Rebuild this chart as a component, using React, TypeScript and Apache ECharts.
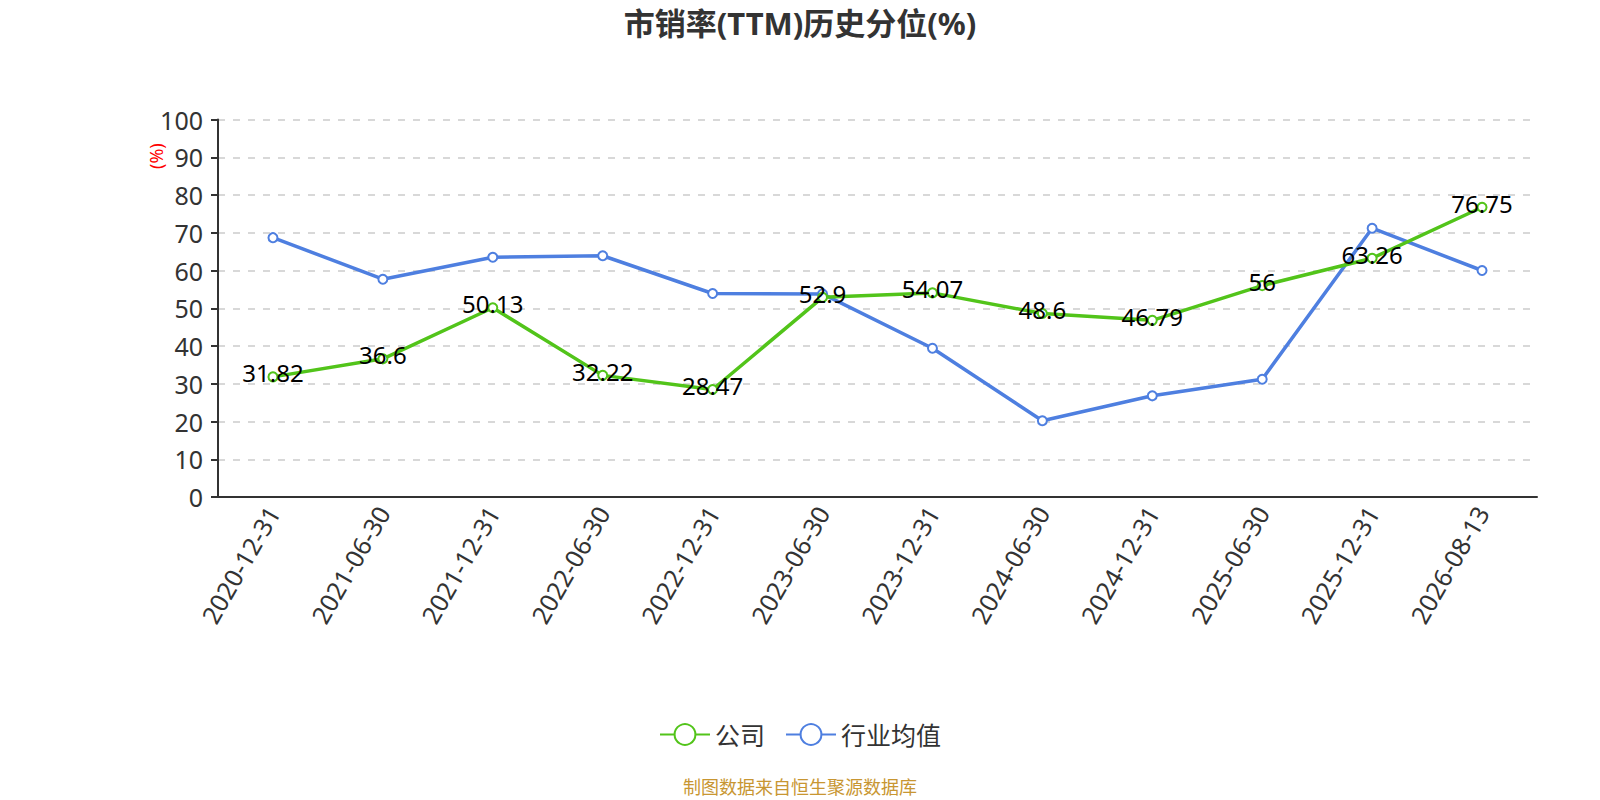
import React, { useEffect, useRef } from "react";
import * as echarts from "echarts";

const categories = [
  "2020-12-31",
  "2021-06-30",
  "2021-12-31",
  "2022-06-30",
  "2022-12-31",
  "2023-06-30",
  "2023-12-31",
  "2024-06-30",
  "2024-12-31",
  "2025-06-30",
  "2025-12-31",
  "2026-08-13",
];
const companyValues = [31.82, 36.6, 50.13, 32.22, 28.47, 52.9, 54.07, 48.6, 46.79, 56, 63.26, 76.75];
const industryValues = [68.7, 57.7, 63.5, 63.9, 53.9, 53.8, 39.4, 20.2, 26.8, 31.2, 71.2, 60.0];
const seriesNames = ["公司", "行业均值"];
const titleText = "市销率(TTM)历史分位(%)";
const sourceText = "制图数据来自恒生聚源数据库";
const yAxisName = "(%)";

const FONT = "'Noto Sans', 'Noto Sans CJK SC', sans-serif";

export default function App() {
  const ref = useRef<HTMLDivElement>(null);

  useEffect(() => {
    document.body.style.margin = "0";
    if (!ref.current) return;
    const chart = echarts.init(ref.current, undefined, { renderer: "svg" });
    chart.setOption({
      animation: false,
      backgroundColor: "#ffffff",
      textStyle: { fontFamily: FONT },
      title: {
        text: titleText,
        left: "center",
        top: 2,
        textStyle: { fontSize: 31, fontWeight: "bold", color: "#333333", fontFamily: FONT },
      },
      legend: {
        data: seriesNames,
        bottom: 48,
        left: "center",
        itemWidth: 50,
        itemHeight: 26,
        itemGap: 20,
        textStyle: { fontSize: 25, color: "#333333", fontFamily: FONT },
      },
      grid: {
        left: 218,
        right: 63,
        top: 119.5,
        bottom: 303,
        containLabel: false,
      },
      xAxis: {
        type: "category",
        data: categories,
        boundaryGap: true,
        axisLine: { lineStyle: { color: "#333333", width: 2 } },
        axisTick: { alignWithLabel: false, length: 7, lineStyle: { color: "#333333", width: 2 } },
        axisLabel: { rotate: 60, fontSize: 25, color: "#333333", interval: 0, margin: 11, fontFamily: FONT },
        splitLine: { show: false },
      },
      yAxis: {
        type: "value",
        min: 0,
        max: 100,
        interval: 10,
        axisLine: { show: true, lineStyle: { color: "#333333", width: 2 } },
        axisTick: { show: true, length: 7, lineStyle: { color: "#333333", width: 2 } },
        axisLabel: { fontSize: 25, color: "#333333", margin: 15, fontFamily: FONT },
        splitLine: { show: true, lineStyle: { color: "#cccccc", type: [7, 8], width: 1.5 } },
      },
      graphic: [
        {
          type: "text",
          x: 147,
          y: 169,
          rotation: Math.PI / 2,
          style: { text: yAxisName, fill: "#ff0000", fontSize: 18, fontFamily: FONT },
        },
        {
          type: "text",
          left: "center",
          top: 778,
          style: { text: sourceText, fill: "#c89632", fontSize: 18, fontFamily: FONT },
        },
      ],
      series: [
        {
          name: seriesNames[0],
          type: "line",
          data: companyValues,
          symbol: "emptyCircle",
          symbolSize: 9,
          itemStyle: { color: "#52c41a", borderWidth: 2 },
          lineStyle: { color: "#52c41a", width: 3.5 },
          label: {
            show: true,
            position: "inside",
            offset: [0, -4],
            fontSize: 24,
            color: "#000000",
            fontFamily: FONT,
          },
          z: 3,
        },
        {
          name: seriesNames[1],
          type: "line",
          data: industryValues,
          symbol: "emptyCircle",
          symbolSize: 9,
          itemStyle: { color: "#4e7fe0", borderWidth: 2 },
          lineStyle: { color: "#4e7fe0", width: 3.5 },
          z: 2,
        },
      ],
    });
    return () => chart.dispose();
  }, []);

  return <div ref={ref} style={{ width: 1600, height: 800 }} />;
}
